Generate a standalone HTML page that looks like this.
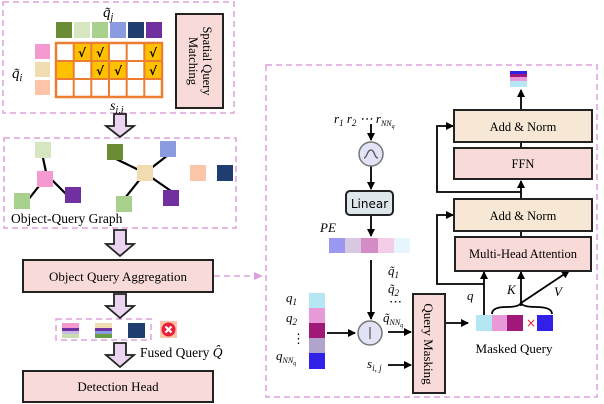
<!DOCTYPE html>
<html><head><meta charset="utf-8"><style>
html,body{margin:0;padding:0;background:#fff;}
svg{display:block;font-family:"Liberation Serif",serif;}
</style></head><body>
<svg width="604" height="404" viewBox="0 0 604 404" xmlns="http://www.w3.org/2000/svg">
<defs>
<marker id="ah" markerWidth="8" markerHeight="8" refX="7" refY="4" orient="auto" markerUnits="userSpaceOnUse"><path d="M0,0 L8,4 L0,8 z" fill="#000"/></marker>
<marker id="ahp" markerWidth="9" markerHeight="8" refX="8" refY="4" orient="auto" markerUnits="userSpaceOnUse"><path d="M0,0 L9,4 L0,8 z" fill="#dda0dd"/></marker>
</defs>
<g fill="none" stroke="#dda0dd" stroke-width="1.5" stroke-dasharray="6,4">
<rect x="3" y="2" width="231" height="111"/>
<rect x="4" y="138" width="232" height="90"/>
<rect x="266" y="65" width="331" height="332"/>
<rect x="56" y="319" width="95" height="21"/>
<line x1="214" y1="276" x2="262" y2="276" marker-end="url(#ahp)"/>
</g>
<rect x="56" y="22" width="16" height="16" fill="#6a8c35"/>
<rect x="74" y="22" width="16" height="16" fill="#d6e6c0"/>
<rect x="92" y="22" width="16" height="16" fill="#a9d18e"/>
<rect x="110" y="22" width="16" height="16" fill="#8b9be0"/>
<rect x="128" y="22" width="16" height="16" fill="#1f3d6e"/>
<rect x="146" y="22" width="16" height="16" fill="#7030a0"/>
<rect x="35" y="44" width="15" height="15" fill="#f59ad0"/>
<rect x="35" y="62" width="15" height="15" fill="#f0dcb0"/>
<rect x="35" y="80" width="15" height="15" fill="#fcc4a8"/>
<text x="103" y="17" font-size="15" font-style="italic">q̃<tspan font-size="10" dy="3">j</tspan></text>
<text x="12" y="78" font-size="15" font-style="italic">q̃<tspan font-size="10" dy="3">i</tspan></text>
<rect x="56" y="43" width="106" height="54" fill="#fff" stroke="#ed7d31" stroke-width="2.5"/>
<g fill="#ffc000">
<rect x="74" y="44" width="17" height="17"/><rect x="92" y="44" width="17" height="17"/><rect x="145" y="44" width="17" height="17"/>
<rect x="57" y="62" width="17" height="17"/><rect x="92" y="62" width="17" height="17"/><rect x="109" y="62" width="17" height="17"/><rect x="145" y="62" width="17" height="17"/>
</g>
<g stroke="#ed7d31" stroke-width="2" fill="none">
<line x1="56" y1="61" x2="162" y2="61"/><line x1="56" y1="79" x2="162" y2="79"/>
<line x1="73.7" y1="43" x2="73.7" y2="97"/><line x1="91.3" y1="43" x2="91.3" y2="97"/><line x1="109" y1="43" x2="109" y2="97"/><line x1="126.7" y1="43" x2="126.7" y2="97"/><line x1="144.3" y1="43" x2="144.3" y2="97"/>
<rect x="56" y="43" width="106" height="54"/>
</g>
<g font-size="12" font-weight="bold" font-family="DejaVu Sans,sans-serif" text-anchor="middle">
<text x="82" y="57">√</text><text x="100" y="57">√</text><text x="153" y="57">√</text>
<text x="100" y="75">√</text><text x="118" y="75">√</text><text x="153" y="75">√</text>
</g>
<rect x="176" y="14" width="47" height="94" fill="#f8dbd9" stroke="#222" stroke-width="2"/>
<text transform="translate(203,61) rotate(90)" font-size="12.5" text-anchor="middle">Spatial Query</text>
<text transform="translate(189,61) rotate(90)" font-size="12.5" text-anchor="middle">Matching</text>
<text x="110" y="110" font-size="14" font-style="italic">s<tspan font-size="10" dy="3">i,j</tspan></text>
<g fill="#ead4ef" stroke="#222" stroke-width="1.8">
<path d="M114,114 h12 v12 h8 l-14,11 l-14,-11 h8 z"/>
<path d="M114,230 h12 v14 h8 l-14,12 l-14,-12 h8 z"/>
<path d="M114,294 h12 v12 h8 l-14,12 l-14,-12 h8 z"/>
<path d="M114,343 h12 v12 h8 l-14,12 l-14,-12 h8 z"/>
</g>
<g stroke="#000" stroke-width="2.2">
<line x1="43" y1="158" x2="46" y2="172"/><line x1="52" y1="180" x2="67" y2="195"/><line x1="39" y1="186" x2="28" y2="200"/>
<line x1="145" y1="173" x2="114" y2="158"/><line x1="145" y1="173" x2="125" y2="198"/><line x1="145" y1="173" x2="168" y2="155"/><line x1="145" y1="173" x2="171" y2="191"/>
</g>
<rect x="35" y="142" width="16" height="16" fill="#d6e6c0"/>
<rect x="37" y="171" width="16" height="16" fill="#f59ad0"/>
<rect x="65" y="187" width="16" height="16" fill="#7030a0"/>
<rect x="14" y="193" width="16" height="16" fill="#a9d18e"/>
<rect x="107" y="144" width="16" height="16" fill="#6a8c35"/>
<rect x="160" y="141" width="16" height="16" fill="#8b9be0"/>
<rect x="137" y="165" width="16" height="16" fill="#f0dcb0"/>
<rect x="163" y="190" width="16" height="16" fill="#7030a0"/>
<rect x="116" y="196" width="16" height="16" fill="#a9d18e"/>
<rect x="190" y="165" width="16" height="16" fill="#fcc4a8"/>
<rect x="217" y="165" width="16" height="16" fill="#1f3d6e"/>
<text x="11" y="223" font-size="13.5">Object-Query Graph</text>
<rect x="23" y="260" width="190" height="32" fill="#f8dbd9" stroke="#222" stroke-width="2"/>
<text x="118" y="281" font-size="13" text-anchor="middle">Object Query Aggregation</text>
<rect x="23" y="371" width="190" height="31" fill="#f8dbd9" stroke="#222" stroke-width="2"/>
<text x="118" y="391" font-size="13" text-anchor="middle">Detection Head</text>
<rect x="62" y="323" width="17" height="5" fill="#f59ad0"/><rect x="62" y="328" width="17" height="3" fill="#7030a0"/><rect x="62" y="331" width="17" height="3" fill="#c9b8e0"/><rect x="62" y="334" width="17" height="4" fill="#c8dcb0"/>
<rect x="95" y="323" width="17" height="5" fill="#f0dcb0"/><rect x="95" y="328" width="17" height="3" fill="#7030a0"/><rect x="95" y="331" width="17" height="3" fill="#8b9be0"/><rect x="95" y="334" width="17" height="4" fill="#6a9c45"/>
<rect x="128" y="323" width="17" height="15" fill="#1f3d6e"/>
<rect x="160" y="321" width="17" height="17" fill="#fcc4a8"/>
<circle cx="168.5" cy="329.5" r="7" fill="#e8203a"/>
<path d="M165.5,326.5 l6,6 M171.5,326.5 l-6,6" stroke="#fff" stroke-width="2.2"/>
<text x="140" y="357" font-size="13.5">Fused Query <tspan font-style="italic">Q̂</tspan></text>
<text x="334" y="123" font-size="13" font-style="italic">r<tspan font-size="9" dy="3">1</tspan><tspan dy="-3"> r</tspan><tspan font-size="9" dy="3">2</tspan><tspan dy="-3"> ⋯ r</tspan><tspan font-size="8" dy="3">NN</tspan><tspan font-size="6" dy="2">q</tspan></text>
<g stroke="#000" stroke-width="1.8" fill="none">
<line x1="371" y1="124" x2="371" y2="140" marker-end="url(#ah)"/>
<line x1="371" y1="166" x2="371" y2="189" marker-end="url(#ah)"/>
<line x1="371" y1="215" x2="371" y2="236" marker-end="url(#ah)"/>
<line x1="371" y1="260" x2="371" y2="319" marker-end="url(#ah)"/>
<line x1="327" y1="333" x2="355" y2="333" marker-end="url(#ah)"/>
<line x1="388" y1="332" x2="411" y2="332" marker-end="url(#ah)"/>
<line x1="388" y1="365" x2="411" y2="365" marker-end="url(#ah)"/>
<line x1="446" y1="323" x2="468" y2="323" marker-end="url(#ah)"/>
<line x1="484" y1="315" x2="484" y2="272" marker-end="url(#ah)"/>
<polyline points="484,284 437,284 437,215 453,215" marker-end="url(#ah)"/>
<line x1="521" y1="306" x2="521" y2="272" marker-end="url(#ah)"/>
<line x1="521" y1="303" x2="569" y2="271" marker-end="url(#ah)"/>
<path d="M492,314 q0,-7 14,-7 q15,0 15,-5 q0,5 15,5 q16,0 16,7"/>
<line x1="521" y1="237" x2="521" y2="231"/>
<line x1="521" y1="199" x2="521" y2="181" marker-end="url(#ah)"/>
<polyline points="521,192 437,192 437,126 453,126" marker-end="url(#ah)"/>
<line x1="521" y1="148" x2="521" y2="142"/>
<line x1="521" y1="110" x2="521" y2="90" marker-end="url(#ah)"/>
</g>
<circle cx="371" cy="154" r="12" fill="#e3e3f7" stroke="#777" stroke-width="1.5"/>
<path d="M364,158 c3,0 3,-8 7,-8 c4,0 3,8 7,8" fill="none" stroke="#555" stroke-width="1.3"/>
<rect x="346" y="191" width="47" height="24" rx="4" fill="#dde6ea" stroke="#222" stroke-width="2"/>
<text x="369.5" y="208" font-size="12" font-family="DejaVu Sans,sans-serif" text-anchor="middle">Linear</text>
<text x="320" y="232" font-size="13" font-style="italic">PE</text>
<rect x="329" y="238" width="16" height="15" fill="#9a98f0"/>
<rect x="345" y="238" width="16" height="15" fill="#d8c8e2"/>
<rect x="361" y="238" width="17" height="15" fill="#d48cc4"/>
<rect x="378" y="238" width="16" height="15" fill="#f4cde8"/>
<rect x="394" y="238" width="16" height="15" fill="#e6f6fc"/>
<circle cx="370" cy="333" r="12" fill="#e3e3f7" stroke="#777" stroke-width="1.5"/>
<line x1="370" y1="327" x2="370" y2="339" stroke="#333" stroke-width="1"/>
<rect x="309" y="293" width="16" height="15" fill="#b4e6f4"/>
<rect x="309" y="308" width="16" height="15" fill="#e89ad8"/>
<rect x="309" y="323" width="16" height="15" fill="#a01878"/>
<rect x="309" y="338" width="16" height="15" fill="#b0a4cc"/>
<rect x="309" y="353" width="16" height="16" fill="#3020e8"/>
<g font-size="13" font-style="italic">
<text x="286" y="302">q<tspan font-size="9" dy="3">1</tspan></text>
<text x="286" y="322">q<tspan font-size="9" dy="3">2</tspan></text>
<text x="292" y="343" font-style="normal">⋮</text>
<text x="276" y="360">q<tspan font-size="8" dy="3">NN</tspan><tspan font-size="6" dy="2">q</tspan></text>
<text x="388" y="275">q̃<tspan font-size="9" dy="3">1</tspan></text>
<text x="388" y="293">q̃<tspan font-size="9" dy="3">2</tspan></text>
<text x="389" y="306" font-style="normal">⋯</text>
<text x="383" y="322">q̃<tspan font-size="8" dy="3">NN</tspan><tspan font-size="6" dy="2">q</tspan></text>
<text x="367" y="368">s<tspan font-size="9" dy="3">i, j</tspan></text>
<text x="467" y="300">q</text>
<text x="507" y="294">K</text>
<text x="554" y="296">V</text>
</g>
<rect x="413" y="294" width="32" height="99" fill="#f8dbd9" stroke="#222" stroke-width="2"/>
<text transform="translate(424,344) rotate(90)" font-size="13" text-anchor="middle">Query Masking</text>
<rect x="476" y="315" width="16" height="16" fill="#b4e6f4"/>
<rect x="492" y="315" width="15" height="16" fill="#e89ad8"/>
<rect x="507" y="315" width="16" height="16" fill="#a01878"/>
<text x="531" y="327" font-size="12" fill="#e8203a" text-anchor="middle" font-family="DejaVu Sans,sans-serif">×</text>
<rect x="537" y="315" width="16" height="16" fill="#3020e8"/>
<text x="514" y="353" font-size="13" text-anchor="middle">Masked Query</text>
<rect x="455" y="237" width="136" height="34" fill="#f8dbd9" stroke="#222" stroke-width="2"/>
<text x="523" y="258" font-size="12.5" text-anchor="middle">Multi-Head Attention</text>
<rect x="454" y="199" width="138" height="32" fill="#f6e8d4" stroke="#222" stroke-width="2"/>
<text x="523" y="220" font-size="12.5" text-anchor="middle">Add &amp; Norm</text>
<rect x="454" y="148" width="138" height="31" fill="#f8dbd9" stroke="#222" stroke-width="2"/>
<text x="523" y="168" font-size="12.5" text-anchor="middle">FFN</text>
<rect x="454" y="110" width="138" height="32" fill="#f6e8d4" stroke="#222" stroke-width="2"/>
<text x="523" y="131" font-size="12.5" text-anchor="middle">Add &amp; Norm</text>
<rect x="510" y="71" width="17" height="3" fill="#3020e8"/>
<rect x="510" y="74" width="17" height="3" fill="#a01878"/>
<rect x="510" y="77" width="17" height="4" fill="#e89ad8"/>
<rect x="510" y="81" width="17" height="6" fill="#b4e6f4"/>
</svg>
</body></html>
